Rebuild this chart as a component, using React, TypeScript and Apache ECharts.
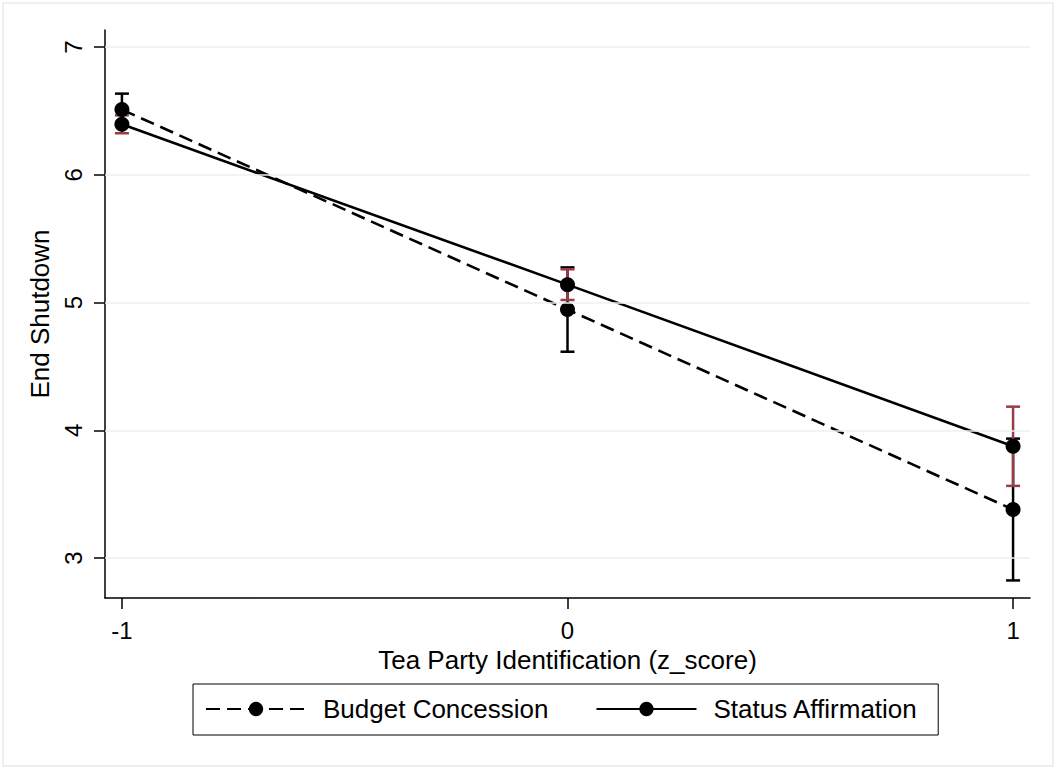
import React, { useEffect, useRef } from "react";
import * as echarts from "echarts";

const xValues = [-1, 0, 1];
const xTicks = [-1, 0, 1];
const yTicks = [3, 4, 5, 6, 7];
const budgetMean = [6.51, 4.945, 3.38];
const budgetLow = [6.385, 4.615, 2.825];
const budgetHigh = [6.635, 5.275, 3.935];
const statusMean = [6.395, 5.14, 3.875];
const statusLow = [6.325, 5.02, 3.565];
const statusHigh = [6.465, 5.26, 4.185];

const FONT = "Liberation Sans, Arial, sans-serif";
const RED = "#983D45";

function ciSeries(name: string, lo: number[], hi: number[], color: string, z: number) {
  return {
    name,
    type: "custom",
    z,
    silent: true,
    encode: { x: 0, y: [1, 2] },
    data: xValues.map((x, i) => [x, lo[i], hi[i]]),
    renderItem: (params: any, api: any) => {
      const x = api.value(0);
      const pLo = api.coord([x, api.value(1)]);
      const pHi = api.coord([x, api.value(2)]);
      const hw = 7;
      const style = { stroke: color, lineWidth: 2.5 };
      return {
        type: "group",
        children: [
          { type: "line", shape: { x1: pLo[0], y1: pLo[1], x2: pHi[0], y2: pHi[1] }, style },
          { type: "line", shape: { x1: pLo[0] - hw, y1: pLo[1], x2: pLo[0] + hw, y2: pLo[1] }, style },
          { type: "line", shape: { x1: pHi[0] - hw, y1: pHi[1], x2: pHi[0] + hw, y2: pHi[1] }, style },
        ],
      };
    },
  };
}

export default function App() {
  const ref = useRef<HTMLDivElement>(null);
  useEffect(() => {
    if (!ref.current) return;
    const chart = echarts.init(ref.current, undefined, { renderer: "svg" });
    chart.setOption({
      animation: false,
      backgroundColor: "#ffffff",
      textStyle: { fontFamily: FONT },
      graphic: [
        {
          type: "rect",
          shape: { x: 3, y: 3, width: 1050, height: 763 },
          style: { fill: "none", stroke: "#E4ECEF", lineWidth: 1.5 },
          silent: true,
        },
      ],
      grid: { left: 105, right: 27, top: 30, bottom: 172 },
      legend: {
        data: ["Budget Concession", "Status Affirmation"],
        left: 193,
        top: 684,
        width: 760,
        orient: "horizontal",
        borderColor: "#000",
        borderWidth: 1,
        borderRadius: 0,
        padding: [10, 20, 11, 12],
        itemWidth: 100,
        itemHeight: 18,
        itemGap: 47,
        selectedMode: false,
        textStyle: { fontSize: 26, color: "#000", fontFamily: FONT, padding: [0, 0, 0, 12], lineHeight: 30 },
      },
      xAxis: {
        type: "value",
        min: -1.038,
        max: 1.038,
        name: "Tea Party Identification (z_score)",
        nameLocation: "middle",
        nameGap: 46,
        nameTextStyle: { fontSize: 26, color: "#000", fontFamily: FONT },
        axisLine: { show: true, onZero: false, lineStyle: { color: "#000", width: 1.5 } },
        axisTick: { show: true, customValues: xTicks, length: 11, lineStyle: { color: "#000", width: 1.5 } },
        axisLabel: { customValues: xTicks, fontSize: 24, color: "#000", margin: 20, fontFamily: FONT },
        splitLine: { show: false },
      },
      yAxis: {
        type: "value",
        min: 2.6875,
        max: 7.133,
        name: "End Shutdown",
        nameLocation: "middle",
        nameRotate: 90,
        nameGap: 50,
        nameTextStyle: { fontSize: 26, color: "#000", fontFamily: FONT },
        axisLine: { show: true, onZero: false, lineStyle: { color: "#000", width: 1.5 } },
        axisTick: { show: true, customValues: yTicks, length: 11, lineStyle: { color: "#000", width: 1.5 } },
        axisLabel: { customValues: yTicks, fontSize: 24, color: "#000", margin: 20, rotate: 90, fontFamily: FONT },
        splitLine: { show: false },
      },
      series: [
        {
          name: "grid",
          type: "line",
          data: [],
          silent: true,
          z: 0,
          markLine: {
            silent: true,
            symbol: "none",
            label: { show: false },
            lineStyle: { color: "#EAF2F3", width: 1.5, type: "solid" },
            data: yTicks.map((v) => ({ yAxis: v })),
          },
        },
        ciSeries("Budget CI", budgetLow, budgetHigh, "#000", 2),
        ciSeries("Status CI", statusLow, statusHigh, RED, 3),
        {
          name: "Budget Concession",
          type: "line",
          z: 4,
          data: xValues.map((x, i) => [x, budgetMean[i]]),
          symbol: "circle",
          symbolSize: 15,
          itemStyle: { color: "#000" },
          lineStyle: { color: "#000", width: 2.6, type: [14, 7] },
        },
        {
          name: "Status Affirmation",
          type: "line",
          z: 4,
          data: xValues.map((x, i) => [x, statusMean[i]]),
          symbol: "circle",
          symbolSize: 15,
          itemStyle: { color: "#000" },
          lineStyle: { color: "#000", width: 2.6, type: "solid" },
        },
      ],
    });
    return () => chart.dispose();
  }, []);
  return (
    <div
      ref={ref}
      style={{ position: "absolute", left: 0, top: 0, width: 1057, height: 770 }}
    />
  );
}
